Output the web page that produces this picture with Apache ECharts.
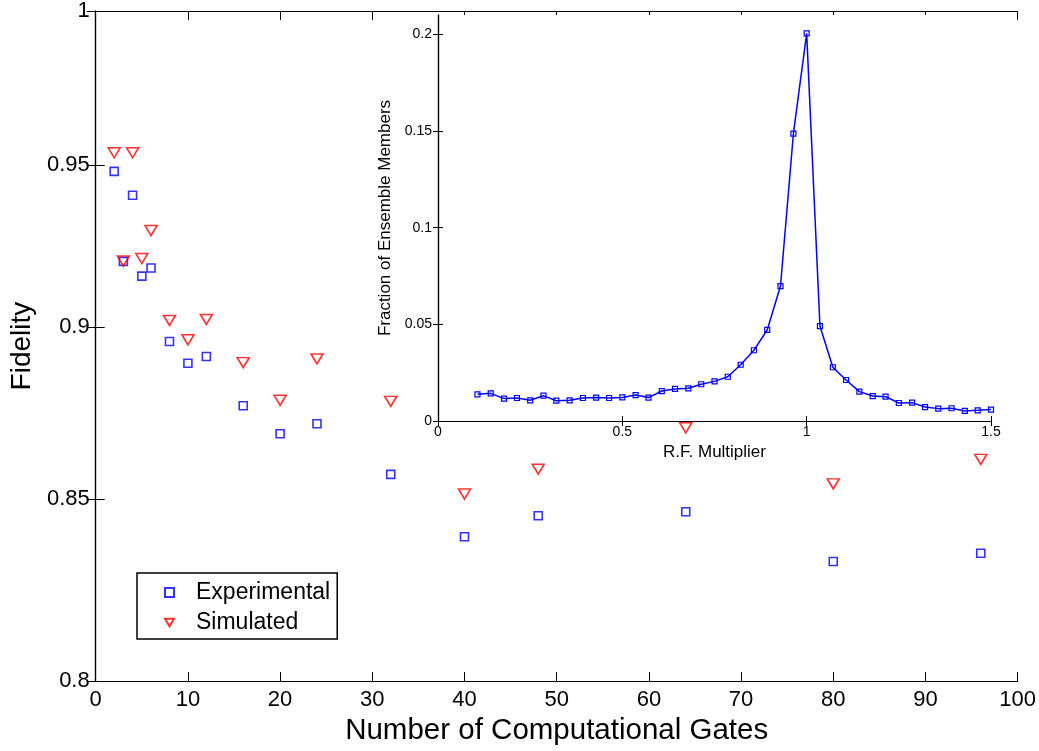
<!DOCTYPE html>
<html>
<head>
<meta charset="utf-8">
<script src="https://cdn.jsdelivr.net/npm/echarts@6/dist/echarts.min.js"></script>
<style>
html,body{margin:0;padding:0;background:#fff;}
#chart{width:1039px;height:751px;}
</style>
</head>
<body>
<div id="chart"></div>
<script>
// Main plot data
const gates = [2, 3, 4, 5, 6, 8, 10, 12, 16, 20, 24, 32, 40, 48, 64, 80, 96];
const experimental = [0.948, 0.920, 0.9405, 0.9155, 0.918, 0.8958, 0.8893, 0.8913, 0.8768, 0.8687, 0.8716, 0.857, 0.8394, 0.8453, 0.8464, 0.8325, 0.8348];
const simulated = [0.9539, 0.9201, 0.9539, 0.9209, 0.9295, 0.9021, 0.8963, 0.9024, 0.8895, 0.8784, 0.8906, 0.8781, 0.8514, 0.8585, 0.8704, 0.8543, 0.8613];
const mainXTicks = [0, 10, 20, 30, 40, 50, 60, 70, 80, 90, 100];
const mainYTicks = [0.8, 0.85, 0.9, 0.95, 1];

// Inset data
const rfMultiplier = [0.107, 0.143, 0.179, 0.214, 0.250, 0.286, 0.321, 0.357, 0.393, 0.429,
  0.464, 0.500, 0.536, 0.571, 0.607, 0.643, 0.679, 0.714, 0.750, 0.786,
  0.821, 0.857, 0.893, 0.929, 0.964, 1.000, 1.036, 1.071, 1.107, 1.143,
  1.179, 1.214, 1.250, 1.286, 1.321, 1.357, 1.393, 1.429, 1.464, 1.500];
const fraction = [0.0138, 0.0143, 0.0116, 0.0119, 0.0107, 0.0131, 0.0105, 0.0107, 0.0119, 0.0121,
  0.0119, 0.0122, 0.0134, 0.0121, 0.0155, 0.0166, 0.0169, 0.0190, 0.0205, 0.0229,
  0.0291, 0.0366, 0.0471, 0.0698, 0.1486, 0.2005, 0.0491, 0.0278, 0.0212, 0.0152,
  0.0129, 0.0126, 0.0093, 0.0095, 0.0072, 0.0064, 0.0066, 0.0052, 0.0055, 0.0059];
const insetYTicks = [0, 0.05, 0.1, 0.15, 0.2];

const FONT = 'Liberation Sans, Arial, Helvetica, sans-serif';
const chart = echarts.init(document.getElementById('chart'), null, {renderer: 'canvas'});

function fmt(v) { return String(Number(Number(v).toPrecision(6))); }

const lineBlack = {show: true, lineStyle: {color: '#000', width: 1.2}};

const option = {
  backgroundColor: '#fff',
  animation: false,
  textStyle: {fontFamily: FONT},
  grid: [
    {left: 95, top: 10, width: 925, height: 677, show: false, z: 0},
    {left: 438, top: 15, width: 553, height: 406, show: true, backgroundColor: '#fff', borderWidth: 0, z: 1}
  ],
  legend: {
    show: true,
    orient: 'vertical',
    left: 137,
    top: 573,
    data: ['Experimental', 'Simulated'],
    borderColor: '#000',
    borderWidth: 1.5,
    padding: [8, 7, 5, 27],
    itemGap: 7,
    itemWidth: 9,
    itemHeight: 9,
    textStyle: {fontSize: 23, color: '#000', fontFamily: FONT, padding: [0, 0, 0, 17]},
    backgroundColor: '#fff'
  },
  xAxis: [
    {
      gridIndex: 0, type: 'value', position: 'bottom', min: 0, max: 100, interval: 10,
      name: 'Number of Computational Gates', nameLocation: 'middle', nameGap: 27,
      nameTextStyle: {fontSize: 29.5, color: '#000', fontFamily: FONT},
      axisLine: lineBlack,
      axisTick: {show: true, inside: true, length: 9, lineStyle: {color: '#000', width: 1}, customValues: mainXTicks},
      axisLabel: {fontSize: 22, color: '#000', margin: 8, fontFamily: FONT, customValues: mainXTicks, formatter: fmt},
      splitLine: {show: false}
    },
    {
      gridIndex: 0, type: 'value', position: 'top', min: 0, max: 100, interval: 10,
      axisLine: lineBlack,
      axisTick: {show: true, inside: true, length: 9, lineStyle: {color: '#000', width: 1}},
      axisLabel: {show: false},
      splitLine: {show: false}
    },
    {
      gridIndex: 1, type: 'value', position: 'bottom', min: 0, max: 1.5, interval: 0.5,
      name: 'R.F. Multiplier', nameLocation: 'middle', nameGap: 19,
      nameTextStyle: {fontSize: 17, color: '#000', fontFamily: FONT},
      axisLine: lineBlack,
      axisTick: {show: true, inside: true, length: 5, lineStyle: {color: '#000', width: 1}},
      axisLabel: {fontSize: 14, color: '#000', margin: 4, fontFamily: FONT, formatter: fmt},
      splitLine: {show: false},
      z: 3
    },
    {
      gridIndex: 1, type: 'value', position: 'top', min: 0, max: 1.5, interval: 0.5,
      axisLine: lineBlack,
      axisTick: {show: true, inside: true, length: 5, lineStyle: {color: '#000', width: 1}},
      axisLabel: {show: false},
      splitLine: {show: false},
      z: 3
    }
  ],
  yAxis: [
    {
      gridIndex: 0, type: 'log', logBase: 10, position: 'left', min: 0.8, max: 1,
      name: 'Fidelity', nameLocation: 'middle', nameGap: 58,
      nameTextStyle: {fontSize: 28, color: '#000', fontFamily: FONT},
      axisLine: lineBlack,
      axisTick: {show: true, inside: true, length: 9, lineStyle: {color: '#000', width: 1}, customValues: mainYTicks},
      axisLabel: {fontSize: 22, color: '#000', margin: 6, fontFamily: FONT, customValues: mainYTicks, formatter: fmt},
      minorTick: {show: false},
      splitLine: {show: false}
    },
    {
      gridIndex: 0, type: 'log', logBase: 10, position: 'right', min: 0.8, max: 1,
      axisLine: lineBlack,
      axisTick: {show: true, inside: true, length: 9, lineStyle: {color: '#000', width: 1}, customValues: mainYTicks},
      axisLabel: {show: false, customValues: mainYTicks},
      splitLine: {show: false}
    },
    {
      gridIndex: 1, type: 'value', position: 'left', min: 0, max: 0.21,
      name: 'Fraction of Ensemble Members', nameLocation: 'middle', nameGap: 37,
      nameTextStyle: {fontSize: 17, color: '#000', fontFamily: FONT},
      axisLine: lineBlack,
      axisTick: {show: true, inside: true, length: 5, lineStyle: {color: '#000', width: 1}, customValues: insetYTicks},
      axisLabel: {fontSize: 14, color: '#000', margin: 6, fontFamily: FONT, customValues: insetYTicks, formatter: fmt},
      splitLine: {show: false},
      z: 3
    },
    {
      gridIndex: 1, type: 'value', position: 'right', min: 0, max: 0.21,
      axisLine: lineBlack,
      axisTick: {show: true, inside: true, length: 5, lineStyle: {color: '#000', width: 1}, customValues: insetYTicks},
      axisLabel: {show: false, customValues: insetYTicks},
      splitLine: {show: false},
      z: 3
    }
  ],
  series: [
    {
      name: 'Experimental', type: 'scatter', xAxisIndex: 0, yAxisIndex: 0,
      data: gates.map((g, i) => [g, experimental[i]]),
      symbol: 'rect', symbolSize: 8,
      itemStyle: {color: 'rgba(255,255,255,0)', borderColor: '#0000ff', borderWidth: 1.6},
      z: 2
    },
    {
      name: 'Simulated', type: 'scatter', xAxisIndex: 0, yAxisIndex: 0,
      data: gates.map((g, i) => [g, simulated[i]]),
      symbol: 'path://M0,0L12,0L6,10Z', symbolSize: [12, 10],
      itemStyle: {color: 'rgba(255,255,255,0)', borderColor: '#ff0000', borderWidth: 1.6},
      z: 2
    },
    {
      name: 'Inset', type: 'line', xAxisIndex: 2, yAxisIndex: 2,
      data: rfMultiplier.map((x, i) => [x, fraction[i]]),
      symbol: 'rect', symbolSize: 5, showSymbol: true,
      lineStyle: {color: '#0000ff', width: 1.5},
      itemStyle: {color: 'rgba(255,255,255,0)', borderColor: '#0000ff', borderWidth: 1.2},
      z: 4
    }
  ]
};
chart.setOption(option);
</script>
</body>
</html>
